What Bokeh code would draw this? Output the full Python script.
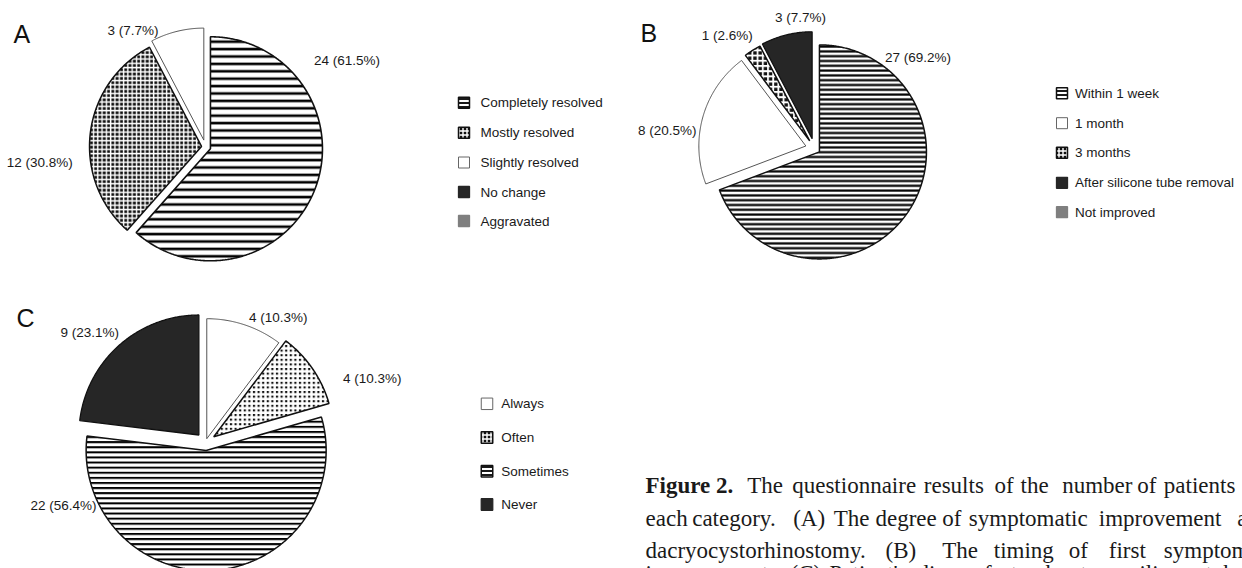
import numpy as np
from bokeh.plotting import figure
from bokeh.models import Range1d
from bokeh.core.properties import value
from bokeh.embed import file_html
from bokeh.resources import INLINE

W, H = 1242, 568

# ---------------- data ----------------
a_categories = ["Completely resolved", "Mostly resolved", "Slightly resolved", "No change", "Aggravated"]
a_counts = [24, 12, 3, 0, 0]

b_categories = ["Within 1 week", "1 month", "3 months", "After silicone tube removal", "Not improved"]
b_counts = [27, 8, 1, 3, 0]

c_categories = ["Always", "Often", "Sometimes", "Never"]
c_counts = [4, 4, 22, 9]

panel_letters = ["A", "B", "C"]

caption_lines = [
    [("Figure 2.", True), ("The", False), ("questionnaire", False), ("results", False), ("of", False),
     ("the", False), ("number", False), ("of", False), ("patients", False)],
    [("each", False), ("category.", False), ("(A)", False), ("The", False), ("degree", False), ("of", False),
     ("symptomatic", False), ("improvement", False), ("after", False)],
    [("dacryocystorhinostomy.", False), ("(B)", False), ("The", False), ("timing", False), ("of", False),
     ("first", False), ("symptom", False)],
    [("improvement.", False), ("(C)", False), ("Patient's", False), ("discomfort", False), ("about", False),
     ("silicone", False), ("tube", False)],
]

# ---------------- layout (pixel positions, y measured from top) ----------------
caption_word_x = [
    [645, 746.7, 791.7, 923.3, 994, 1020, 1061.7, 1136.7, 1163.3],
    [645, 691.7, 792.7, 833.3, 875, 941.7, 968.3, 1098.3, 1236.7],
    [645, 885, 941.7, 993.3, 1068.3, 1108.3, 1163.3],
    [645, 790, 829, 917, 1035, 1130, 1205],
]
caption_y = [485, 517.5, 550, 560]
caption_base = ["alphabetic", "alphabetic", "alphabetic", "top"]

letter_pos = [(13, 33), (640, 32.5), (16, 317)]

BLACK = "#262626"
WHITE = "#ffffff"

def st(fill, pattern=None, scale=6, weight=1, line="#111111", lw=1.3, hcolor="#000000"):
    d = dict(fill_color=fill, line_color=line, line_width=lw)
    if pattern:
        d.update(hatch_pattern=pattern, hatch_scale=scale, hatch_weight=weight, hatch_color=hcolor)
    return d

# dotted textures: dark fill broken by a white grid, leaving small black squares
a_styles = [st(WHITE, "horizontal_line", 7.4, 2.6, lw=1.6),
            st("#111111", "cross", 4.3, 1.4, lw=1.5, hcolor=WHITE),
            st(WHITE, None, line="#555555", lw=1),
            st(BLACK, line="#111111"),
            st("#7f7f7f", line="#7f7f7f")]
b_styles = [st(WHITE, "horizontal_line", 4.8, 2.2, lw=1.5),
            st(WHITE, None, line="#555555", lw=1),
            st("#111111", "cross", 5.2, 1.8, lw=1.5, hcolor=WHITE),
            st(BLACK, line="#111111"),
            st("#7f7f7f", line="#7f7f7f")]
c_styles = [st(WHITE, None, line="#555555", lw=1),
            st("#111111", "cross", 4.6, 2.4, lw=1.5, hcolor=WHITE),
            st(WHITE, "horizontal_line", 5.1, 2.0, lw=1.5),
            st(BLACK, line="#111111")]

leg_lines = st(WHITE, "horizontal_line", 4.0, 1.8, lw=1.5)
leg_dots = st("#111111", "cross", 4.0, 1.4, lw=1.5, hcolor=WHITE)
leg_white = st(WHITE, None, line="#666666", lw=1)
leg_black = st(BLACK, line=BLACK)
leg_gray = st("#7f7f7f", line="#7f7f7f")

legend_a_styles = [leg_lines, leg_dots, leg_white, leg_black, leg_gray]
legend_b_styles = [leg_lines, leg_white, leg_dots, leg_black, leg_gray]
legend_c_styles = [leg_white, leg_dots, leg_lines, leg_black]

pies = [
    dict(counts=a_counts, styles=a_styles, c=(205, 146.4), r=112, explode=[5.3, 4, 7, 0, 0],
         labels_at=[(346.5, 60), (39.3, 162), (132.5, 30)]),
    dict(counts=b_counts, styles=b_styles, c=(814, 148), r=107, explode=[6, 9, 9, 10, 0],
         labels_at=[(917.5, 56.7), (666.7, 130), (726.7, 35), (800, 16.7)]),
    dict(counts=c_counts, styles=c_styles, c=(205, 442), r=120, explode=[4, 10, 8, 10],
         labels_at=[(277.8, 316.7), (371.7, 378.3), (63, 505), (89.3, 331.7)]),
]

legends = [
    dict(cats=a_categories, styles=legend_a_styles, sx=463.5, tx=480, rows=[102.3, 132.2, 162, 191.5, 220.5], size=11),
    dict(cats=b_categories, styles=legend_b_styles, sx=1061.5, tx=1074.5, rows=[92.7, 122.7, 152.3, 182.3, 211.7], size=11),
    dict(cats=c_categories, styles=legend_c_styles, sx=486.5, tx=500.8, rows=[403.3, 436.9, 470.7, 504], size=11.5),
]

def Y(ypx):
    return H - ypx

p = figure(width=W, height=H, x_range=Range1d(0, W), y_range=Range1d(0, H),
           output_backend="svg", toolbar_location=None,
           x_axis_location=None, y_axis_location=None, min_border=0)
p.grid.visible = False
p.outline_line_color = None
p.background_fill_color = "white"
p.border_fill_color = "white"

SANS = value("Liberation Sans")
SERIF = value("Liberation Serif")

for pie in pies:
    counts = pie["counts"]
    total = sum(counts)
    cx, cy = pie["c"][0], Y(pie["c"][1])
    r = pie["r"]
    start = 0.0
    labels = []
    for i, cnt in enumerate(counts):
        if cnt == 0:
            continue
        sweep = 360.0 * cnt / total
        a0, a1 = start, start + sweep
        mid = np.radians((a0 + a1) / 2)
        ox = cx + pie["explode"][i] * np.sin(mid)
        oy = cy + pie["explode"][i] * np.cos(mid)
        t = np.radians(np.linspace(a0, a1, max(4, int(sweep * 2))))
        xs = [ox] + list(ox + r * np.sin(t))
        ys = [oy] + list(oy + r * np.cos(t))
        p.patch(xs, ys, **pie["styles"][i])
        labels.append(f"{cnt} ({100.0 * cnt / total:.1f}%)")
        start = a1
    lx = [q[0] for q in pie["labels_at"]]
    ly = [Y(q[1]) for q in pie["labels_at"]]
    p.text(x=lx, y=ly, text=labels, text_font=SANS, text_font_size="13.5px",
           text_align="center", text_baseline="middle", text_color="#1a1a1a")

for lg in legends:
    n = len(lg["cats"])
    for i in range(n):
        p.rect(x=lg["sx"], y=Y(lg["rows"][i]), width=lg["size"], height=lg["size"], **lg["styles"][i])
    p.text(x=[lg["tx"]] * n, y=[Y(v) for v in lg["rows"]], text=lg["cats"], text_font=SANS,
           text_font_size="13.5px", text_align="left", text_baseline="middle", text_color="#1a1a1a")

p.text(x=[q[0] for q in letter_pos], y=[Y(q[1]) for q in letter_pos], text=panel_letters,
       text_font=SANS, text_font_size="25px", text_align="left", text_baseline="alphabetic",
       text_color="#111111")

for li, line in enumerate(caption_lines):
    for wi, (word, bold) in enumerate(line):
        p.text(x=[caption_word_x[li][wi]], y=[Y(caption_y[li])], text=[word],
               text_font=SERIF, text_font_size="23px", text_align="left",
               text_baseline=caption_base[li],
               text_font_style="bold" if bold else "normal", text_color="#1a1a1a")

open("out.html", "w").write(file_html(p, INLINE))
